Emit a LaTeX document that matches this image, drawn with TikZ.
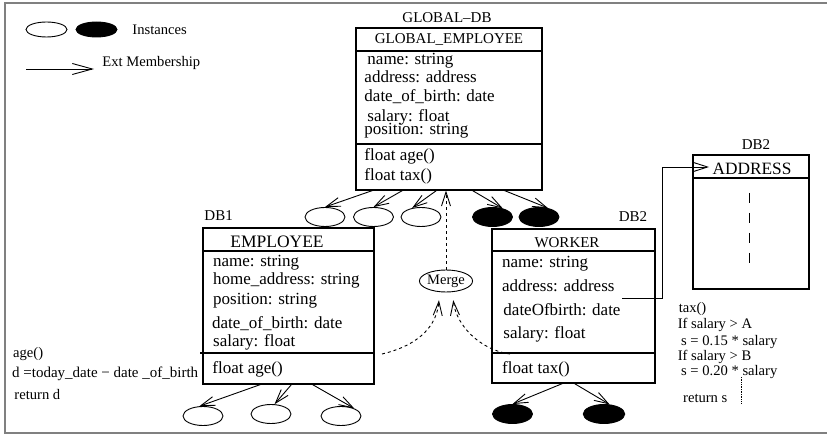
\documentclass[tikz,border=0pt]{standalone}
\usepackage{fontspec}
\setmainfont{Liberation Serif}
\usetikzlibrary{arrows.meta,shapes.geometric}

\begin{document}
\begin{tikzpicture}[x=1pt,y=-1pt,line width=0.9pt,
    member/.style={-{Straight Barb[length=14pt,width=9pt]}},
    classbox/.style={draw,rectangle,line width=1.1pt,inner sep=0pt},
    inst/.style={draw,ellipse,minimum width=40pt,minimum height=19pt,inner sep=0pt},
    instf/.style={inst,fill=black},
    attr/.style={anchor=west,inner sep=0pt,font=\fontsize{17}{20}\selectfont},
    hdr/.style={inner sep=0pt,font=\fontsize{15}{18}\selectfont},
    code/.style={anchor=west,inner sep=0pt,font=\fontsize{14.6}{17}\selectfont}]
	\useasboundingbox (0,0) rectangle (827,435);
	\draw[gray,line width=1.3pt] (5,3) rectangle (835,433);

	% legend
	\node[inst,minimum width=41pt,minimum height=15pt] (lgopen) at (46.5,29.5) {};
	\node[instf,minimum width=41pt,minimum height=15pt] (lgfill) at (96.5,29.5) {};
	\node[code] (lginst) at (132,29.5) {Instances};
	\coordinate (lga) at (26,69);
	\coordinate (lgb) at (94,69);
	\draw[-{Straight Barb[length=20pt,width=11pt]}] (lga) -- (lgb);
	\node[code] (lgext) at (102,63) {Ext Membership};

	% global class
	\node[hdr] (globdb) at (447,18) {GLOBAL--DB};
	\node[classbox,minimum width=186pt,minimum height=162pt] (glob) at (449,109) {};
	\draw[line width=1.1pt] (glob.west |- 0,51) -- (glob.east |- 0,51);
	\draw[line width=1.1pt] (glob.west |- 0,144) -- (glob.east |- 0,144);
	\node[hdr] (globname) at (449,39.5) {GLOBAL\_EMPLOYEE};
	\node[attr] at (367,61) {name: string};
	\node[attr] at (364,77) {address: address};
	\node[attr] at (364,97) {date\_of\_birth: date};
	\node[attr] at (367,117) {salary: float};
	\node[attr] at (364,131) {position: string};
	\node[attr] at (364,156) {float age()};
	\node[attr] at (364,176) {float tax()};

	% instances of the global class
	\node[inst] (g1) at (325,217) {};
	\node[inst] (g2) at (373.5,217) {};
	\node[inst] (g3) at (421,217) {};
	\node[instf] (g4) at (492.5,217) {};
	\node[instf] (g5) at (539,217) {};
	\draw[member] ([xshift=17]glob.south west) -- (g1.north);
	\draw[member] ([xshift=47]glob.south west) -- (g2.north);
	\draw[member] ([xshift=81]glob.south west) -- (g3.135);
	\draw[member] ([xshift=117]glob.south west) -- (g4.40);
	\draw[member] ([xshift=149]glob.south west) -- (g5.45);

	% DB1
	\node[hdr,anchor=west] (db1) at (204,216) {DB1};
	\node[classbox,minimum width=171pt,minimum height=156pt] (emp) at (288.5,306) {};
	\draw[line width=1.1pt] (emp.west |- 0,251) -- (emp.east |- 0,251);
	\draw[line width=1.1pt] ([xshift=-2]emp.west |- 0,353) -- (emp.east |- 0,353);
	\node[hdr,font=\fontsize{17.5}{20}\selectfont] (empname) at (277,241.7) {EMPLOYEE};
	\node[attr] at (212.7,263) {name: string};
	\node[attr] at (212.7,280.7) {home\_address: string};
	\node[attr] at (212.7,300.7) {position: string};
	\node[attr] at (211.7,324) {date\_of\_birth: date};
	\node[attr] at (212.7,342.7) {salary: float};
	\node[attr] at (212,369) {float age()};

	\node[inst] (e1) at (203,416) {};
	\node[inst] (e2) at (271,414) {};
	\node[inst] (e3) at (341,416) {};
	\draw[member] ([xshift=58]emp.south west) -- (e1.110);
	\draw[member] ([xshift=89]emp.south west) -- (e2.70);
	\draw[member] ([xshift=110]emp.south west) -- (e3.30);

	\node[code] at (12.7,354.3) {age()};
	\node[code,font=\fontsize{15}{18}\selectfont] at (11.7,374.3) {d =today\_date − date \_of\_birth};
	\node[code] at (14,395) {return d};

	% DB2
	\node[hdr] (db2) at (633,217) {DB2};
	\node[classbox,minimum width=163pt,minimum height=154pt] (wrk) at (573.5,306) {};
	\draw[line width=1.1pt] (wrk.west |- 0,251) -- (wrk.east |- 0,251);
	\draw[line width=1.1pt] (wrk.west |- 0,353) -- (wrk.east |- 0,353);
	\node[hdr] (wrkname) at (567,242.7) {WORKER};
	\node[attr] at (501.7,264) {name: string};
	\node[attr] at (501.7,285.7) {address: address};
	\node[attr] at (503,309.3) {dateOfbirth: date};
	\node[attr] at (503,334) {salary: float};
	\node[attr] at (501.7,369.3) {float tax()};

	\node[instf] (w1) at (512.5,414) {};
	\node[instf,minimum width=41.5pt] (w2) at (604,414) {};
	\draw[member] ([xshift=71]wrk.south west) -- (w1.north);
	\draw[member] ([xshift=83]wrk.south west) -- (w2.60);

	\node[code] at (678.3,309.3) {tax()};
	\node[code] at (677.3,325) {If salary > A};
	\node[code] at (680.7,341.7) {s = 0.15 * salary};
	\node[code] at (677.3,357.3) {If salary > B};
	\node[code] at (680.7,372.3) {s = 0.20 * salary};
	\node[code] at (682.7,398.3) {return s};
	\draw[densely dotted,line width=0.7pt] (741,377) -- (741,403);

	% address class
	\node[hdr] (db2b) at (756,145) {DB2};
	\node[classbox,minimum width=116pt,minimum height=134pt] (addr) at (751,222) {};
	\draw[line width=1.1pt] (addr.west |- 0,178) -- (addr.east |- 0,178);
	\node[hdr,font=\fontsize{17.3}{20}\selectfont] (addrname) at (752,169.3) {ADDRESS};
	\draw[dash pattern=on 10pt off 10pt] (749,193) -- (749,263);
	\coordinate (wadr) at (622,298);
	\coordinate (atip) at (709,167);
	\draw[member] (wadr) -- ++(40,0) |- (atip);

	% merge
	\node[draw,ellipse,minimum width=52pt,minimum height=22pt,inner sep=0pt,
	  font=\fontsize{14.5}{17}\selectfont] (merge) at (446,281) {Merge};
	\draw[member,dashed] (merge) -- (merge |- glob.south);
	\coordinate (empm) at (382,354);
	\coordinate (wrkm) at (510,354);
	\draw[member,dashed,shorten >=8pt] (empm) .. controls (420,345) and (437,325) .. (merge.240);
	\draw[member,dashed,shorten >=8pt] (wrkm) .. controls (480,350) and (456,325) .. (merge.300);
\end{tikzpicture}
\end{document}
